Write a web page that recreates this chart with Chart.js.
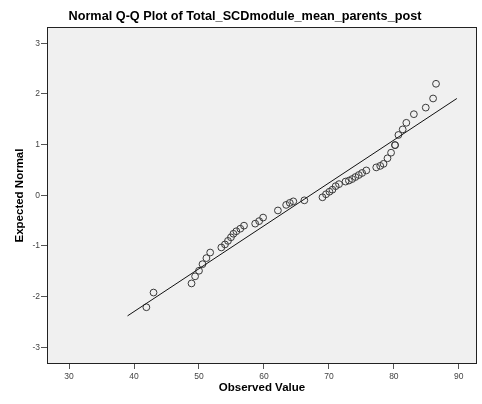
<!DOCTYPE html>
<html>
<head>
<meta charset="utf-8">
<script src="https://cdn.jsdelivr.net/npm/chart.js@4/dist/chart.umd.min.js"></script>
<style>
  html, body { margin: 0; padding: 0; background: #ffffff; }
  canvas { display: block; }
</style>
</head>
<body>
<canvas id="qq" width="482" height="404"></canvas>
<script>
// Observed values (x) and their expected normal quantiles (y)
const observedValue = [
  41.9, 43.0, 48.85, 49.4, 50.0, 50.54, 51.14, 51.72,
  53.44, 54.0, 54.46, 54.92, 55.3, 55.75, 56.36, 56.93,
  58.65, 59.26, 59.87, 62.15, 63.42, 63.98, 64.52, 66.22,
  69.01, 69.55, 70.08, 70.54, 71.04, 71.56, 72.56, 73.08,
  73.58, 74.08, 74.6, 75.11, 75.76, 77.29, 77.9, 78.41,
  79.02, 79.57, 80.18, 80.18, 80.7, 81.36, 81.92, 83.08,
  84.91, 86.04, 86.49
];
const expectedNormal = [
  -2.21, -1.92, -1.74, -1.60, -1.49, -1.36, -1.24, -1.13,
  -1.03, -0.97, -0.90, -0.83, -0.76, -0.71, -0.66, -0.60,
  -0.56, -0.51, -0.44, -0.30, -0.19, -0.15, -0.12, -0.10,
  -0.04, 0.02, 0.07, 0.11, 0.18, 0.22, 0.27, 0.29,
  0.32, 0.36, 0.40, 0.44, 0.49, 0.55, 0.58, 0.62,
  0.73, 0.84, 0.99, 0.99, 1.19, 1.30, 1.43, 1.60,
  1.73, 1.91, 2.20
];

// Reference line endpoints
const fitLineX = [39.0, 89.7];
const fitLineY = [-2.38, 1.91];

// Axis ticks
const xTickValues = [30, 40, 50, 60, 70, 80, 90];
const yTickValues = [-3, -2, -1, 0, 1, 2, 3];

const FONT = "'Liberation Sans', Arial, sans-serif";

// Grey plot panel with a black frame
const plotPanel = {
  id: 'plotPanel',
  beforeDatasetsDraw(chart) {
    const { ctx, chartArea: a } = chart;
    ctx.save();
    ctx.fillStyle = '#f0f0f0';
    ctx.fillRect(a.left, a.top, a.right - a.left, a.bottom - a.top);
    ctx.strokeStyle = '#222222';
    ctx.lineWidth = 1;
    ctx.strokeRect(Math.round(a.left) + 0.5, Math.round(a.top) + 0.5,
                   Math.round(a.right - a.left) - 1, Math.round(a.bottom - a.top) - 1);
    ctx.restore();
  }
};

new Chart(document.getElementById('qq'), {
  type: 'scatter',
  data: {
    datasets: [
      {
        type: 'line',
        data: fitLineX.map((x, i) => ({ x, y: fitLineY[i] })),
        borderColor: '#111111',
        borderWidth: 1,
        pointRadius: 0,
        fill: false,
        tension: 0
      },
      {
        data: observedValue.map((x, i) => ({ x, y: expectedNormal[i] })),
        pointStyle: 'circle',
        pointRadius: 3.4,
        backgroundColor: 'rgba(0,0,0,0)',
        borderColor: '#3a3a3a',
        borderWidth: 1
      }
    ]
  },
  options: {
    responsive: false,
    animation: false,
    layout: { padding: { top: 0, right: 1, bottom: 0, left: 9 } },
    plugins: {
      legend: { display: false },
      tooltip: { enabled: false },
      title: {
        display: true,
        text: 'Normal Q-Q Plot of Total_SCDmodule_mean_parents_post',
        color: '#000000',
        font: { family: FONT, size: 12.7, weight: 'bold', lineHeight: 1.2 },
        padding: { top: 8.4, bottom: 3.4 }
      }
    },
    scales: {
      x: {
        type: 'linear',
        min: 26.6,
        max: 92.8,
        afterBuildTicks: (s) => { s.ticks = xTickValues.map(v => ({ value: v })); },
        afterFit: (s) => { s.height = 40; },
        border: { display: false },
        grid: { drawOnChartArea: false, drawTicks: true, tickLength: 5, color: '#555555' },
        ticks: {
          autoSkip: false, maxRotation: 0, padding: 3,
          color: '#444444', font: { family: FONT, size: 8.5 }
        },
        title: {
          display: true, text: 'Observed Value', color: '#000000',
          font: { family: FONT, size: 11.5, weight: 'bold', lineHeight: 1.2 },
          padding: { top: 0, bottom: 8.8 }
        }
      },
      y: {
        type: 'linear',
        min: -3.33,
        max: 3.32,
        afterBuildTicks: (s) => { s.ticks = yTickValues.map(v => ({ value: v })); },
        afterFit: (s) => { s.width = 38; },
        border: { display: false },
        grid: { drawOnChartArea: false, drawTicks: true, tickLength: 6, color: '#555555' },
        ticks: {
          autoSkip: false, padding: 1,
          color: '#444444', font: { family: FONT, size: 8.5 }
        },
        title: {
          display: true, text: 'Expected Normal', color: '#000000',
          font: { family: FONT, size: 11.5, weight: 'bold', lineHeight: 1.2 },
          padding: { top: 4, bottom: 0 }
        }
      }
    }
  },
  plugins: [plotPanel]
});
</script>
</body>
</html>
